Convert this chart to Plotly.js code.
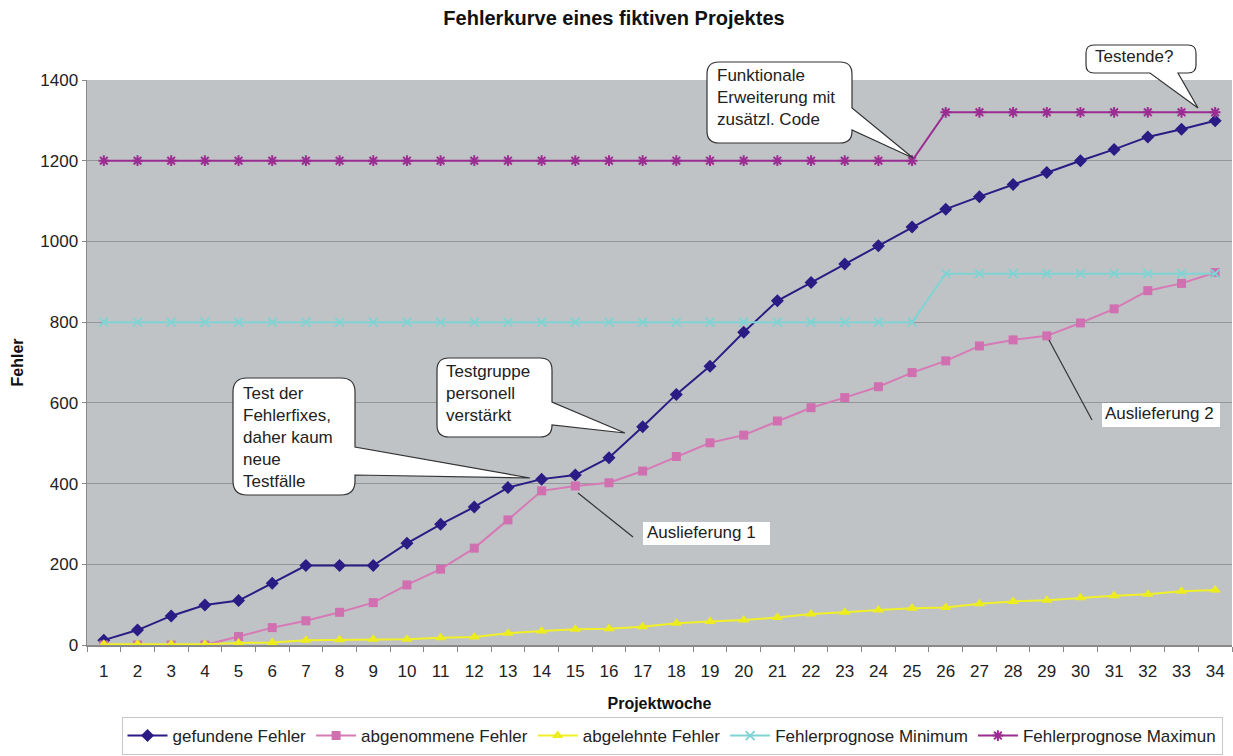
<!DOCTYPE html>
<html>
<head>
<meta charset="utf-8">
<script src="https://cdn.plot.ly/plotly-3.0.1.min.js"></script>
<style>html,body{margin:0;padding:0;background:#fff;}#chart{width:1233px;height:756px;}</style>
</head>
<body>
<div id="chart"></div>
<script>
const weeks = ['1','2','3','4','5','6','7','8','9','10','11','12','13','14','15','16','17','18','19','20','21','22','23','24','25','26','27','28','29','30','31','32','33','34'];
const gefundeneFehler = [12,37,72,99,110,153,197,197,197,252,299,342,390,411,421,464,541,621,691,775,853,898,944,989,1036,1080,1111,1141,1171,1200,1228,1259,1278,1299];
const abgenommeneFehler = [0,0,0,0,21,43,60,81,105,149,188,240,310,382,394,402,431,467,501,520,555,588,613,640,675,704,741,756,766,798,833,878,896,923];
const abgelehnteFehler = [2,2,2,2,5,6,12,13,14,14,18,20,29,35,39,40,45,54,58,62,68,77,81,87,91,93,102,108,111,117,122,126,133,136];
const prognoseMinimum = [800,800,800,800,800,800,800,800,800,800,800,800,800,800,800,800,800,800,800,800,800,800,800,800,800,920,920,920,920,920,920,920,920,920];
const prognoseMaximum = [1200,1200,1200,1200,1200,1200,1200,1200,1200,1200,1200,1200,1200,1200,1200,1200,1200,1200,1200,1200,1200,1200,1200,1200,1200,1320,1320,1320,1320,1320,1320,1320,1320,1320];
const seriesNames = ['gefundene Fehler','abgenommene Fehler','abgelehnte Fehler','Fehlerprognose Minimum','Fehlerprognose Maximun'];

const FONT = '"Liberation Sans", Arial, sans-serif';
const L = 87, R = 1232, T = 80, B = 645;
const W = R - L, H = B - T;
const X = px => ((px - L) / W).toFixed(5);
const Y = py => ((B - py) / H).toFixed(5);

function bubble(o) {
  const {x0, y0, x1, y1, r, side, a, b, tx, ty} = o;
  let d = `M${X(x0 + r)},${Y(y0)} L${X(x1 - r)},${Y(y0)} Q${X(x1)},${Y(y0)} ${X(x1)},${Y(y0 + r)}`;
  if (side === 'right') d += ` L${X(x1)},${Y(a)} L${X(tx)},${Y(ty)} L${X(x1)},${Y(b)}`;
  d += ` L${X(x1)},${Y(y1 - r)} Q${X(x1)},${Y(y1)} ${X(x1 - r)},${Y(y1)}`;
  if (side === 'bottom') d += ` L${X(b)},${Y(y1)} L${X(tx)},${Y(ty)} L${X(a)},${Y(y1)}`;
  d += ` L${X(x0 + r)},${Y(y1)} Q${X(x0)},${Y(y1)} ${X(x0)},${Y(y1 - r)} L${X(x0)},${Y(y0 + r)} Q${X(x0)},${Y(y0)} ${X(x0 + r)},${Y(y0)} Z`;
  return {type: 'path', xref: 'paper', yref: 'paper', path: d, fillcolor: '#ffffff',
          line: {color: '#333333', width: 1.2}, layer: 'above'};
}
function rectBox(x0, y0, x1, y1) {
  return {type: 'rect', xref: 'paper', yref: 'paper', x0: X(x0), x1: X(x1), y0: Y(y1), y1: Y(y0),
          fillcolor: '#ffffff', line: {width: 0}, layer: 'above'};
}
function pointer(x0, y0, x1, y1) {
  return {type: 'line', xref: 'paper', yref: 'paper', x0: X(x0), y0: Y(y0), x1: X(x1), y1: Y(y1),
          line: {color: '#333333', width: 1.2}, layer: 'above'};
}
function label(text, px, py) {
  return {xref: 'paper', yref: 'paper', x: X(px), y: Y(py), xanchor: 'left', yanchor: 'top',
          text: text, showarrow: false, align: 'left', borderpad: 0,
          font: {family: FONT, size: 17, color: '#222222'}};
}

const traces = [
  {x: weeks, y: gefundeneFehler, name: seriesNames[0], mode: 'lines+markers',
   line: {color: '#2b1b84', width: 2}, marker: {symbol: 'diamond', size: 10, color: '#2b1b84'}},
  {x: weeks, y: abgenommeneFehler, name: seriesNames[1], mode: 'lines+markers',
   line: {color: '#d67ab6', width: 2}, marker: {symbol: 'square', size: 9, color: '#d070b0'}},
  {x: weeks, y: abgelehnteFehler, name: seriesNames[2], mode: 'lines+markers',
   line: {color: '#f0f028', width: 2}, marker: {symbol: 'triangle-up', size: 10, color: '#eded1e'}},
  {x: weeks, y: prognoseMinimum, name: seriesNames[3], mode: 'lines+markers',
   line: {color: '#7fd3d3', width: 2}, marker: {symbol: 'x-thin-open', size: 9, line: {color: '#7fd3d3', width: 1.8}}},
  {x: weeks, y: prognoseMaximum, name: seriesNames[4], mode: 'lines+markers',
   line: {color: '#9a2c92', width: 2}, marker: {symbol: 'asterisk-open', size: 9, line: {color: '#9a2c92', width: 2}}}
];

const shapes = [
  bubble({x0: 707, y0: 62, x1: 852, y1: 143, r: 12, side: 'right', a: 108, b: 130, tx: 913, ty: 158}),
  bubble({x0: 1086, y0: 45, x1: 1196, y1: 73, r: 8, side: 'bottom', a: 1150, b: 1178, tx: 1198, ty: 108}),
  bubble({x0: 437, y0: 358, x1: 552, y1: 437, r: 12, side: 'right', a: 402, b: 425, tx: 625, ty: 433}),
  bubble({x0: 233, y0: 378, x1: 355, y1: 495, r: 14, side: 'right', a: 447, b: 475, tx: 530, ty: 478}),
  rectBox(643, 522, 770, 545),
  pointer(578, 493, 633, 537),
  rectBox(1102, 403, 1220, 427),
  pointer(1049, 340, 1092, 420)
];

const annotations = [
  label('Funktionale<br>Erweiterung mit<br>zusätzl. Code', 716, 65),
  label('Testende?', 1094, 46),
  label('Testgruppe<br>personell<br>verstärkt', 445, 361),
  label('Test der<br>Fehlerfixes,<br>daher kaum<br>neue<br>Testfälle', 242, 383),
  label('Auslieferung 1', 646, 522),
  label('Auslieferung 2', 1104, 403)
];

const layout = {
  width: 1233, height: 756,
  margin: {l: L, r: 1233 - R, t: T, b: 756 - B, pad: 0},
  paper_bgcolor: '#ffffff', plot_bgcolor: '#c0c3c6',
  font: {family: FONT, size: 17, color: '#222222'},
  title: {text: '<b>Fehlerkurve eines fiktiven Projektes</b>', x: 614 / 1233, xref: 'container', xanchor: 'center',
          y: 1 - 18 / 756, yref: 'container', yanchor: 'middle', font: {family: FONT, size: 20, color: '#111111'}},
  xaxis: {type: 'category', range: [-0.5, 33.5], tickson: 'boundaries', ticks: 'outside', ticklen: 5,
          tickcolor: '#888888', showgrid: false, showline: true, linecolor: '#8a8a8a', linewidth: 1.5,
          ticklabelstandoff: 10,
          tickfont: {family: FONT, size: 17, color: '#222222'}, automargin: false, fixedrange: true,
          title: {text: '<b>Projektwoche</b>', standoff: 18, font: {family: FONT, size: 16, color: '#111111'}}},
  yaxis: {range: [0, 1400], dtick: 200, ticks: 'outside', ticklen: 4, tickcolor: '#888888',
          showgrid: true, gridcolor: '#94979a', gridwidth: 1, zeroline: false,
          showline: true, linecolor: '#8a8a8a', linewidth: 1.5,
          tickfont: {family: FONT, size: 17, color: '#222222'}, automargin: false, fixedrange: true,
          title: {text: '<b>Fehler</b>', standoff: 12, font: {family: FONT, size: 16, color: '#111111'}}},
  legend: {orientation: 'h', x: (672 - L) / W, xanchor: 'center', y: (B - 755) / H, yanchor: 'bottom',
           font: {family: FONT, size: 17, color: '#222222'}, bordercolor: '#c8c8c8', borderwidth: 1,
           bgcolor: '#ffffff', itemwidth: 40, tracegroupgap: 0},
  showlegend: true,
  shapes: shapes,
  annotations: annotations
};

Plotly.newPlot('chart', traces, layout, {displayModeBar: false, staticPlot: true});
</script>
</body>
</html>
